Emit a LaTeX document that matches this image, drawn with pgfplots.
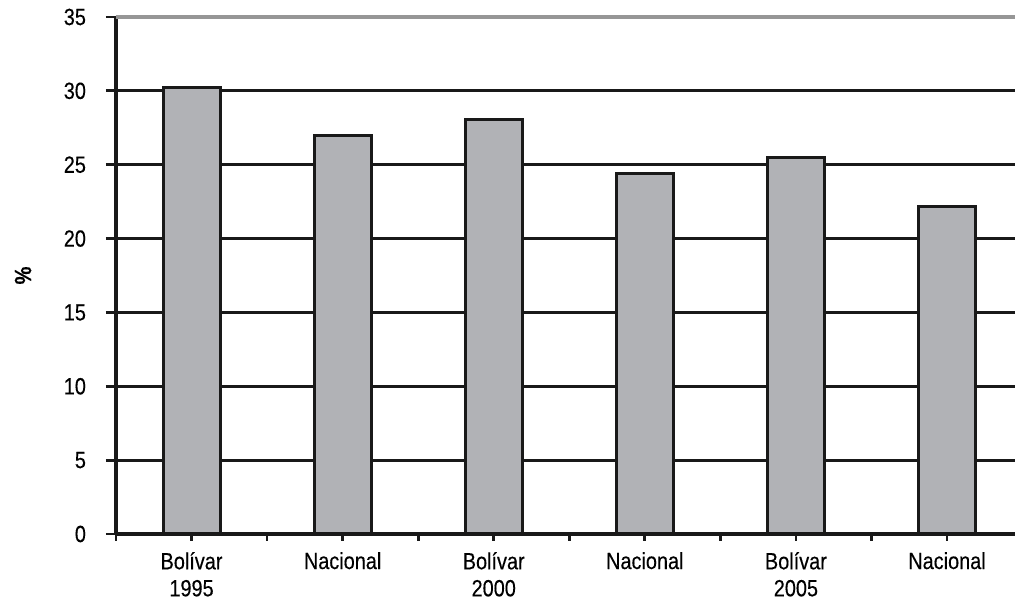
\documentclass[border=0pt]{standalone}
\usepackage{pgfplots}
\pgfplotsset{compat=1.18}
\usepackage{fontspec}
\setmainfont[FakeStretch=0.85, FakeBold=0.3]{Liberation Sans}
\definecolor{bargray}{RGB}{177,178,182}
\definecolor{topgray}{RGB}{150,150,150}
\begin{document}
\begin{tikzpicture}
\useasboundingbox (-58pt,-34.5pt) rectangle (449.5pt,267pt);
\begin{axis}[
  at={(0,0)}, anchor=south west, scale only axis,
  width=449.5pt, height=258.5pt,
  xmin=-0.5, xmax=5.45, ymin=0, ymax=35,
  axis x line=bottom, axis y line=left,
  axis line style={-, black!90, line width=1.7pt},
  ybar, bar width=28.5pt,
  ytick={0,5,...,30},
  extra y ticks={35},
  extra y tick style={major grid style={topgray, line width=1.6pt}},
  ymajorgrids,
  major grid style={black!90, line width=1.4pt},
  every tick/.style={black!90, line width=1.4pt},
  major tick length=5pt, tick align=outside,
  xtick={-0.5,0.5,1.5,2.5,3.5,4.5},
  xticklabels={},
  x tick style={/pgfplots/major tick length=3.5pt},
  extra x ticks={0,1,2,3,4,5},
  extra x tick labels={{Bolívar\\1995},Nacional,{Bolívar\\2000},Nacional,{Bolívar\\2005},Nacional},
  extra x tick style={major tick length=0pt, xmajorgrids=false},
  xticklabel style={align=center, anchor=north, yshift=-5.5pt, font=\fontsize{11.7}{13.5}\selectfont},
  yticklabel style={font=\fontsize{11.7}{13.5}\selectfont, xshift=-6.5pt},
  ylabel={\%},
  ylabel style={at={(axis description cs:-0.1034,0.5)}, anchor=center, font=\fontsize{11.7}{13.5}\selectfont\bfseries},
  /pgf/number format/assume math mode=true,
]
\addplot[fill=bargray, draw=black!90, line width=1.5pt] coordinates {
  (0,30.2) (1,27.0) (2,28.05) (3,24.4) (4,25.5) (5,22.2)
};
\end{axis}
\end{tikzpicture}
\end{document}
